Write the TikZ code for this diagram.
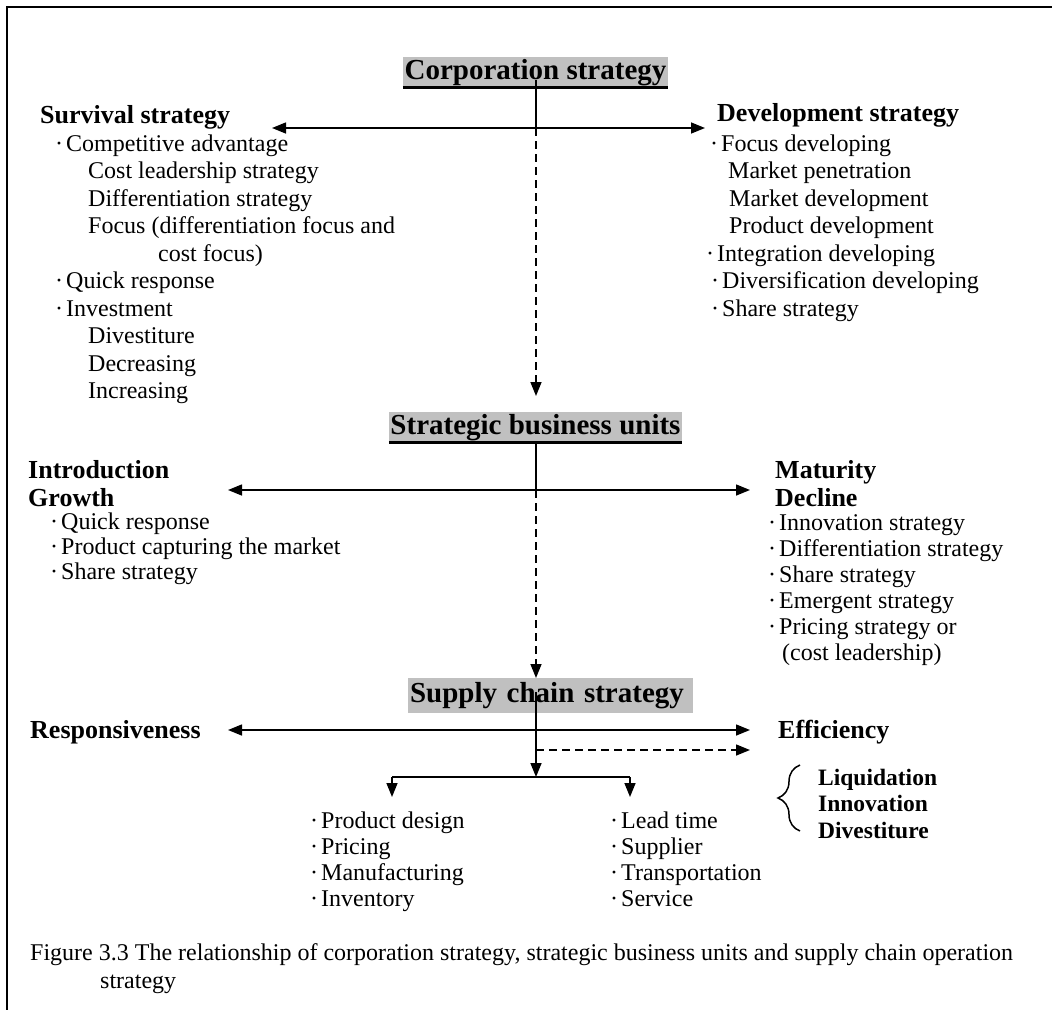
\documentclass[tikz,border=0pt]{standalone}
\usepackage{fontspec}
\setmainfont{Liberation Serif}
\usetikzlibrary{arrows.meta,decorations.pathreplacing}
\definecolor{boxgray}{RGB}{192,192,192}
% bullet used in the item lists
\newcommand\bu{\makebox[11pt][l]{·}}

\begin{document}
\begin{tikzpicture}[x=1pt,y=-1pt,
  txt/.style={anchor=base west,inner sep=0pt,font=\fontsize{24pt}{27pt}\selectfont},
  bold/.style={anchor=base west,inner sep=0pt,font=\fontsize{23.5pt}{27pt}\selectfont\bfseries},
  head/.style={anchor=base west,inner sep=0pt,font=\fontsize{26pt}{30pt}\selectfont\bfseries},
  title/.style={inner sep=0pt,fill=boxgray,font=\fontsize{29pt}{33pt}\selectfont\bfseries},
  con/.style={line width=1.5pt},
  dash line/.style={con,dash pattern=on 8pt off 5pt},
  tip/.style={-{Triangle[length=14pt,width=11pt]}},
  tips/.style={{Triangle[length=14pt,width=11pt]}-{Triangle[length=14pt,width=11pt]}},
]
\useasboundingbox (0,0) rectangle (1053,1010);

% frame
\draw[line width=2.5pt] (7,1010) -- (7,7) -- (1052,7);

% ---- level titles ----
\node[title,minimum width=265pt,minimum height=32pt] (corp) at (535.5,73) {Corporation strategy};
\draw[line width=3pt] ([yshift=1.5pt]corp.south west) -- ([yshift=1.5pt]corp.south east);
\node[title,minimum width=293pt,minimum height=32pt] (sbu) at (535.5,428) {Strategic business units};
\draw[line width=3pt] ([yshift=1.5pt]sbu.south west) -- ([yshift=1.5pt]sbu.south east);
\node[title,minimum width=285pt,minimum height=35pt,text width=281pt,align=left] (scs) at (550.5,695.5) {Supply chain strategy};

% ---- corporation level ----
\node[head] (surv) at (40,123) {Survival strategy};
\foreach \t/\x/\y [count=\i] in {
  {\bu Competitive advantage}/55/143,
  {Cost leadership strategy}/88/170.5,
  {Differentiation strategy}/88/198,
  {Focus (differentiation focus and}/88/225.5,
  {cost focus)}/158/253,
  {\bu Quick response}/55/280.5,
  {\bu Investment}/55/308,
  {Divestiture}/88/335.5,
  {Decreasing}/88/363,
  {Increasing}/88/390.5}
  \node[txt] (sv\i) at (\x,\y+8) {\t};

\node[head] (dev) at (717,121) {Development strategy};
\foreach \t/\x/\y [count=\i] in {
  {\bu Focus developing}/710/143,
  {Market penetration}/728/170.5,
  {Market development}/729/198,
  {Product development}/729/225.5,
  {\bu Integration developing}/706/253,
  {\bu Diversification developing}/711/280.5,
  {\bu Share strategy}/711/308}
  \node[txt] (dv\i) at (\x,\y+8) {\t};

\coordinate (c0) at (536,80);
\coordinate (j1) at (536,128);
\coordinate (a1l) at (272,128);
\coordinate (a1r) at (705,128);
\coordinate (d1) at (536,396);
\draw[con,tips] (a1l) -- (a1r);
\draw[con] (c0) -- (j1);
\draw[dash line,tip] (j1) -- (d1);

% ---- business unit level ----
\node[head] (intro) at (28,478) {Introduction};
\node[head] (grow) at (28,506) {Growth};
\foreach \t/\x/\y [count=\i] in {
  {\bu Quick response}/50/521,
  {\bu Product capturing the market}/50/546,
  {\bu Share strategy}/50/571}
  \node[txt] (gr\i) at (\x,\y+8) {\t};

\node[head] (mat) at (775,478) {Maturity};
\node[head] (decl) at (775,506) {Decline};
\foreach \t/\x/\y [count=\i] in {
  {\bu Innovation strategy}/768/522,
  {\bu Differentiation strategy}/768/548,
  {\bu Share strategy}/768/574,
  {\bu Emergent strategy}/768/600,
  {\bu Pricing strategy or}/768/626,
  {(cost leadership)}/782/652}
  \node[txt] (dc\i) at (\x,\y+8) {\t};

\coordinate (j2) at (536,490);
\coordinate (a2l) at (228,490);
\coordinate (a2r) at (750,490);
\coordinate (d2) at (536,678);
\draw[con,tips] (a2l) -- (a2r);
\draw[con] (sbu.south -| j2) -- (j2);
\draw[dash line,tip] (j2) -- (d2);

% ---- supply chain level ----
\node[head] (resp) at (30,738) {Responsiveness};
\node[head] (eff) at (778,738) {Efficiency};

\coordinate (c3) at (536,692);
\coordinate (j3) at (536,730);
\coordinate (j4) at (536,750);
\coordinate (a3l) at (228,730);
\coordinate (a3r) at (750,730);
\coordinate (e4) at (750,750);
\coordinate (fork) at (536,777);
\coordinate (fl) at (392,777);
\coordinate (fr) at (630,777);
\coordinate (fld) at (392,797);
\coordinate (frd) at (630,797);
\draw[con,tips] (a3l) -- (a3r);
\draw[dash line,tip] (j4) -- (e4);
\draw[con,tip] (c3) -- (fork);
\draw[line width=2pt] (fl) -- (fr);
\draw[con,tip] (fl) -- (fld);
\draw[con,tip] (fr) -- (frd);

% options grouped by the brace
\coordinate (br1) at (800,831);
\coordinate (br2) at (800,765);
\draw[con,decorate,decoration={brace,amplitude=22pt}] (br1) -- (br2);
\node[bold] (liq) at (818,785) {Liquidation};
\node[bold] (inn) at (818,811.5) {Innovation};
\node[bold] (div) at (818,838) {Divestiture};

\foreach \t/\y [count=\i] in {
  {\bu Product design}/820,
  {\bu Pricing}/846,
  {\bu Manufacturing}/872,
  {\bu Inventory}/898}
  \node[txt] (op\i) at (310,\y+8) {\t};
\foreach \t/\y [count=\i] in {
  {\bu Lead time}/820,
  {\bu Supplier}/846,
  {\bu Transportation}/872,
  {\bu Service}/898}
  \node[txt] (lg\i) at (610,\y+8) {\t};

% caption
\node[txt] (cap1) at (30,960) {Figure 3.3 The relationship of corporation strategy, strategic business units and supply chain operation};
\node[txt] (cap2) at (100,988) {strategy};
\end{tikzpicture}
\end{document}
